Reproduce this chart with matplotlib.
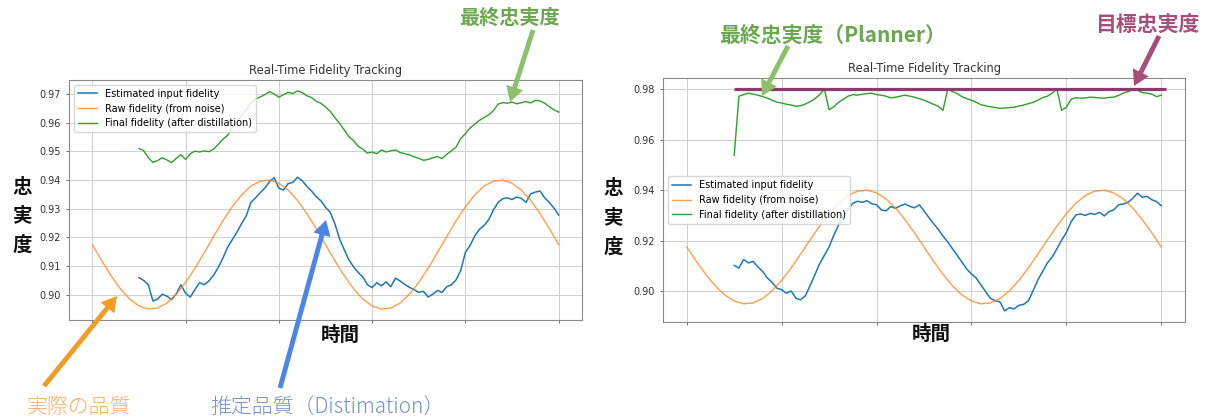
import matplotlib
matplotlib.use("Agg")
import matplotlib.pyplot as plt
from matplotlib.patches import FancyArrowPatch
from matplotlib.ticker import MultipleLocator

# ---------------- data ----------------
chart_title = "Real-Time Fidelity Tracking"
legend_labels = ["Estimated input fidelity",
                 "Raw fidelity (from noise)",
                 "Final fidelity (after distillation)"]

# raw fidelity from the noise model, sampled every 2 time steps (0..100)
raw_steps = list(range(0, 101, 2))
raw_fidelity = [0.9175, 0.9119, 0.9067, 0.9021, 0.8985, 0.8961, 0.8950, 0.8954, 0.8971, 0.9002,
                0.9043, 0.9092, 0.9147, 0.9203, 0.9258, 0.9307, 0.9348, 0.9379, 0.9396, 0.9400,
                0.9389, 0.9365, 0.9329, 0.9283, 0.9231, 0.9175, 0.9119, 0.9067, 0.9021, 0.8985,
                0.8961, 0.8950, 0.8954, 0.8971, 0.9002, 0.9043, 0.9092, 0.9147, 0.9203, 0.9258,
                0.9307, 0.9348, 0.9379, 0.9396, 0.9400, 0.9389, 0.9365, 0.9329, 0.9283, 0.9231,
                0.9175]

# tracked series, one value per time step (10..100)
tracked_steps = list(range(10, 101))

estimated_fixed = [0.9060, 0.9050, 0.9035, 0.8978, 0.8985, 0.9002, 0.8995, 0.8983, 0.9003, 0.9035,
                   0.9005, 0.8992, 0.9018, 0.9042, 0.9035, 0.9048, 0.9068, 0.9095, 0.9128, 0.9165,
                   0.9192, 0.9218, 0.9248, 0.9275, 0.9322, 0.9338, 0.9356, 0.9372, 0.9395, 0.9408,
                   0.9372, 0.9365, 0.9388, 0.9392, 0.9410, 0.9398, 0.9378, 0.9362, 0.9342, 0.9328,
                   0.9305, 0.9288, 0.9248, 0.9195, 0.9158, 0.9122, 0.9098, 0.9078, 0.9062, 0.9035,
                   0.9025, 0.9042, 0.9031, 0.9045, 0.9028, 0.9058, 0.9048, 0.9036, 0.9026, 0.9018,
                   0.9008, 0.9012, 0.8992, 0.9002, 0.9015, 0.9008, 0.9028, 0.9035, 0.9052, 0.9085,
                   0.9148, 0.9172, 0.9205, 0.9228, 0.9242, 0.9262, 0.9295, 0.9322, 0.9335, 0.9338,
                   0.9332, 0.9341, 0.9336, 0.9322, 0.9352, 0.9358, 0.9362, 0.9338, 0.9322, 0.9302,
                   0.9278]

final_fixed = [0.9510, 0.9503, 0.9478, 0.9462, 0.9468, 0.9478, 0.9470, 0.9461, 0.9476, 0.9488,
               0.9472, 0.9492, 0.9501, 0.9498, 0.9502, 0.9499, 0.9508, 0.9525, 0.9542, 0.9556,
               0.9582, 0.9602, 0.9625, 0.9645, 0.9668, 0.9682, 0.9690, 0.9698, 0.9708, 0.9700,
               0.9689, 0.9698, 0.9706, 0.9702, 0.9711, 0.9705, 0.9694, 0.9688, 0.9675, 0.9668,
               0.9655, 0.9640, 0.9618, 0.9598, 0.9575, 0.9552, 0.9538, 0.9518, 0.9508, 0.9494,
               0.9498, 0.9492, 0.9505, 0.9498, 0.9502, 0.9505, 0.9496, 0.9492, 0.9488, 0.9481,
               0.9476, 0.9469, 0.9472, 0.9478, 0.9482, 0.9475, 0.9490, 0.9502, 0.9515, 0.9545,
               0.9562, 0.9582, 0.9595, 0.9608, 0.9618, 0.9628, 0.9642, 0.9665, 0.9670, 0.9668,
               0.9672, 0.9666, 0.9670, 0.9674, 0.9669, 0.9678, 0.9676, 0.9668, 0.9656, 0.9645,
               0.9637]

estimated_planner = [0.9102, 0.9092, 0.9125, 0.9112, 0.9118, 0.9096, 0.9078, 0.9052, 0.9035, 0.9012,
                     0.9006, 0.8992, 0.9001, 0.8972, 0.8966, 0.8982, 0.9022, 0.9065, 0.9108, 0.9142,
                     0.9175, 0.9222, 0.9262, 0.9295, 0.9325, 0.9348, 0.9356, 0.9352, 0.9358, 0.9346,
                     0.9342, 0.9322, 0.9318, 0.9335, 0.9328, 0.9338, 0.9345, 0.9336, 0.9330, 0.9342,
                     0.9318, 0.9292, 0.9268, 0.9245, 0.9218, 0.9195, 0.9168, 0.9142, 0.9115, 0.9088,
                     0.9068, 0.9052, 0.9025, 0.8998, 0.8972, 0.8962, 0.8958, 0.8922, 0.8935, 0.8930,
                     0.8944, 0.8948, 0.8962, 0.9002, 0.9045, 0.9078, 0.9112, 0.9135, 0.9168, 0.9202,
                     0.9232, 0.9275, 0.9302, 0.9306, 0.9300, 0.9308, 0.9304, 0.9312, 0.9298, 0.9315,
                     0.9322, 0.9342, 0.9345, 0.9352, 0.9368, 0.9388, 0.9372, 0.9375, 0.9362, 0.9355,
                     0.9338]

final_planner = [0.9537, 0.9772, 0.9778, 0.9784, 0.9780, 0.9776, 0.9770, 0.9764, 0.9756, 0.9748,
                 0.9745, 0.9740, 0.9737, 0.9732, 0.9734, 0.9741, 0.9750, 0.9762, 0.9778, 0.9800,
                 0.9718, 0.9730, 0.9748, 0.9760, 0.9772, 0.9778, 0.9776, 0.9780, 0.9782, 0.9784,
                 0.9778, 0.9776, 0.9772, 0.9765, 0.9768, 0.9772, 0.9776, 0.9772, 0.9768, 0.9762,
                 0.9756, 0.9748, 0.9740, 0.9732, 0.9716, 0.9800, 0.9790, 0.9782, 0.9770, 0.9762,
                 0.9756, 0.9748, 0.9738, 0.9734, 0.9730, 0.9727, 0.9724, 0.9725, 0.9727, 0.9728,
                 0.9733, 0.9737, 0.9742, 0.9748, 0.9756, 0.9766, 0.9772, 0.9784, 0.9800, 0.9716,
                 0.9728, 0.9760, 0.9766, 0.9764, 0.9765, 0.9768, 0.9767, 0.9765, 0.9764, 0.9767,
                 0.9768, 0.9775, 0.9784, 0.9790, 0.9798, 0.9796, 0.9786, 0.9784, 0.9780, 0.9770,
                 0.9776]

target_fidelity = 0.98
target_span = [10, 101]

# ---------------- figure ----------------
W, H = 1207, 419
fig = plt.figure(figsize=(W / 100, H / 100), dpi=100)
fig.patch.set_facecolor("white")

CJK = ["Noto Sans CJK JP", "DejaVu Sans"]


def fx(px):
    return px / W


def fy(py):
    return 1 - py / H


def style_axes(ax, step):
    ax.set_title(chart_title, fontsize=8.3, color="#333333", pad=4)
    ax.grid(True, color="#cfcfcf", linewidth=0.7)
    ax.set_axisbelow(True)
    ax.set_xlim(-5, 105)
    ax.xaxis.set_major_locator(MultipleLocator(20))
    ax.yaxis.set_major_locator(MultipleLocator(step))
    ax.yaxis.set_major_formatter(matplotlib.ticker.FormatStrFormatter("%.2f"))
    ax.tick_params(labelbottom=False, labelsize=7, length=2.5, width=0.6,
                   colors="#555555", labelcolor="#333333")
    for sp in ax.spines.values():
        sp.set_color("#8a8a8a")
        sp.set_linewidth(0.8)


colors = ["#1f77b4", "#ff7f0e", "#2ca02c"]

# left panel: fixed distillation
ax1 = fig.add_axes([fx(69), fy(320), fx(513), 240 / H])
ax1.plot(tracked_steps, estimated_fixed, color=colors[0], lw=1.1, label=legend_labels[0])
ax1.plot(raw_steps, raw_fidelity, color=colors[1], lw=1.0, alpha=0.75, label=legend_labels[1])
ax1.plot(tracked_steps, final_fixed, color=colors[2], lw=1.0, label=legend_labels[2])
style_axes(ax1, 0.01)
ax1.legend(loc="upper left", fontsize=7, framealpha=0.85, edgecolor="#d0d0d0")

# right panel: planner-controlled distillation
ax2 = fig.add_axes([fx(663), fy(322), fx(522), 244 / H])
ax2.plot(tracked_steps, estimated_planner, color=colors[0], lw=1.1, label=legend_labels[0])
ax2.plot(raw_steps, raw_fidelity, color=colors[1], lw=1.0, alpha=0.75, label=legend_labels[1])
ax2.plot(tracked_steps, final_planner, color=colors[2], lw=1.0, label=legend_labels[2])
style_axes(ax2, 0.02)
ax2.legend(loc="center left", fontsize=7, framealpha=0.85, edgecolor="#d0d0d0")
ax2.plot(target_span, [target_fidelity, target_fidelity], color="#8e3a6f", lw=2.3,
         solid_capstyle="butt", clip_on=False, zorder=5)
ax2.set_xlim(-5, 105)

# axis captions
for cx, cy in [(22, 216), (613, 218)]:
    for i, ch in enumerate("忠実度"):
        fig.text(fx(cx), fy(cy - 29 + 29 * i), ch, family=CJK, fontsize=14,
                 fontweight="bold", ha="center", va="center", color="#111111")
for cx, cy in [(340, 335), (931, 334)]:
    fig.text(fx(cx), fy(cy), "時間", family=CJK, fontsize=14, fontweight="bold",
             ha="center", va="center", color="#111111")

# callouts
fig.text(fx(509), fy(17), "最終忠実度", family=CJK, fontsize=14.5, color="#6aa84f",
         ha="center", va="center", fontweight="bold")
fig.text(fx(832), fy(35), "最終忠実度（Planner）", family=CJK, fontsize=15, color="#6aa84f",
         ha="center", va="center", fontweight="bold")
fig.text(fx(1147), fy(25), "目標忠実度", family=CJK, fontsize=15, color="#a64d79",
         ha="center", va="center", fontweight="bold")
fig.text(fx(79), fy(407), "実際の品質", family=CJK, fontsize=15, color="#f6b26b",
         ha="center", va="center", fontweight="light")
fig.text(fx(210), fy(407), "推定品質（Distimation）", family=CJK, fontsize=15, color="#7393c8",
         ha="left", va="center", fontweight="light")


def arrow(tail, tip, color):
    a = FancyArrowPatch((fx(tail[0]), fy(tail[1])), (fx(tip[0]), fy(tip[1])),
                        transform=fig.transFigure,
                        arrowstyle="simple,head_length=1.0,head_width=1.15,tail_width=0.32",
                        mutation_scale=11, color=color, lw=0, shrinkA=0, shrinkB=0, zorder=10)
    fig.add_artist(a)


arrow((533, 30), (510, 102), "#8cc06a")
arrow((788, 46), (762, 96), "#8cc06a")
arrow((1159, 36), (1134, 86), "#a64d79")
arrow((44, 386), (117, 296), "#f39c24")
arrow((280, 388), (326, 220), "#4a86e8")

fig.savefig("out.png", dpi=100, facecolor="white")
